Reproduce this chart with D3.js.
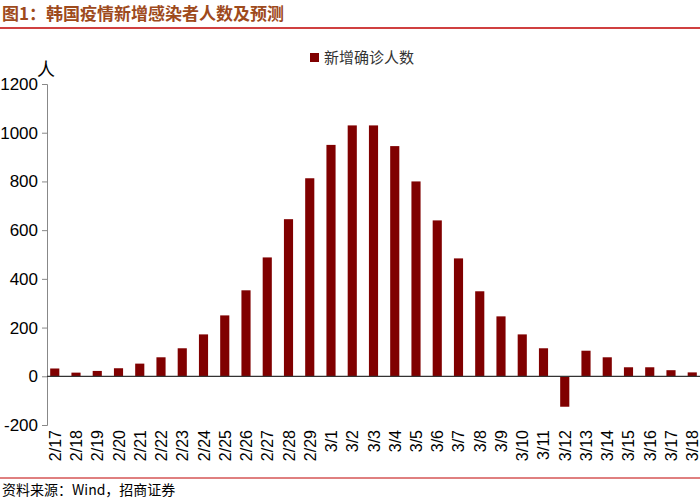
<!DOCTYPE html>
<html><head><meta charset="utf-8">
<script src="https://cdn.jsdelivr.net/npm/d3@7"></script>
<style>body{margin:0;background:#fff}svg{display:block}</style>
</head><body><svg id="c" width="700" height="500"></svg>
<script>
const categories = ["2/17","2/18","2/19","2/20","2/21","2/22","2/23","2/24","2/25","2/26","2/27","2/28","2/29","3/1","3/2","3/3","3/4","3/5","3/6","3/7","3/8","3/9","3/10","3/11","3/12","3/13","3/14","3/15","3/16","3/17","3/18"];
const values = [32,15,22,33,52,78,115,172,250,353,488,645,813,950,1030,1030,945,800,640,484,349,246,172,115,-125,105,78,37,37,25,16];
const yTicks = [-200,0,200,400,600,800,1000,1200];
const seriesName = "新增确诊人数";
const title = "图1：韩国疫情新增感染者人数及预测";
const source = "资料来源：Wind，招商证券";

const svg = d3.select("#c");
const font = "'Noto Sans CJK SC', sans-serif";
const y = d3.scaleLinear().domain([-200,1200]).range([425,84]);
const x = d3.scaleBand().domain(categories).range([47,700]).paddingInner(0.57).paddingOuter(0.15);

svg.append("text").attr("x",2).attr("y",20).attr("font-family",font).attr("font-size",17).attr("font-weight","bold").attr("fill","#9e4a1c").text(title);
svg.append("line").attr("x1",0).attr("x2",700).attr("y1",28).attr("y2",28).attr("stroke","#c00000").attr("stroke-width",1.5);

const ya = svg.append("g").attr("transform","translate(47,0)").call(d3.axisLeft(y).tickValues(yTicks).tickSize(5).tickFormat(d=>d));
ya.selectAll("path,line").attr("stroke","#888");
ya.selectAll("text").attr("font-family","Arial, 'Liberation Sans', sans-serif").attr("font-size",17).attr("fill","#000").attr("dx",-1);
svg.append("text").attr("x",37).attr("y",76).attr("font-family",font).attr("font-size",18).text("人");

svg.append("g").selectAll("rect").data(values).join("rect")
  .attr("x",(d,i)=>x(categories[i]))
  .attr("width",x.bandwidth())
  .attr("y",d=>y(Math.max(0,d)))
  .attr("height",d=>Math.abs(y(d)-y(0)))
  .attr("fill","#800000");

svg.append("line").attr("x1",47).attr("x2",700).attr("y1",y(0)).attr("y2",y(0)).attr("stroke","#333").attr("stroke-width",1.2);

svg.append("g").selectAll("text").data(categories).join("text")
  .attr("transform",d=>`translate(${x(d)+x.bandwidth()/2+6},430) rotate(-90)`)
  .attr("text-anchor","end").attr("font-family","Arial, 'Liberation Sans', sans-serif").attr("font-size",16).text(d=>d);

svg.append("rect").attr("x",310).attr("y",53).attr("width",9).attr("height",9).attr("fill","#800000");
svg.append("text").attr("x",324).attr("y",63).attr("font-family",font).attr("font-size",15).attr("fill","#333").text(seriesName);

svg.append("line").attr("x1",0).attr("x2",700).attr("y1",478).attr("y2",478).attr("stroke","#c00000").attr("stroke-width",1);
svg.append("text").attr("x",2).attr("y",495).attr("font-family",font).attr("font-size",14).text(source);
</script></body></html>
